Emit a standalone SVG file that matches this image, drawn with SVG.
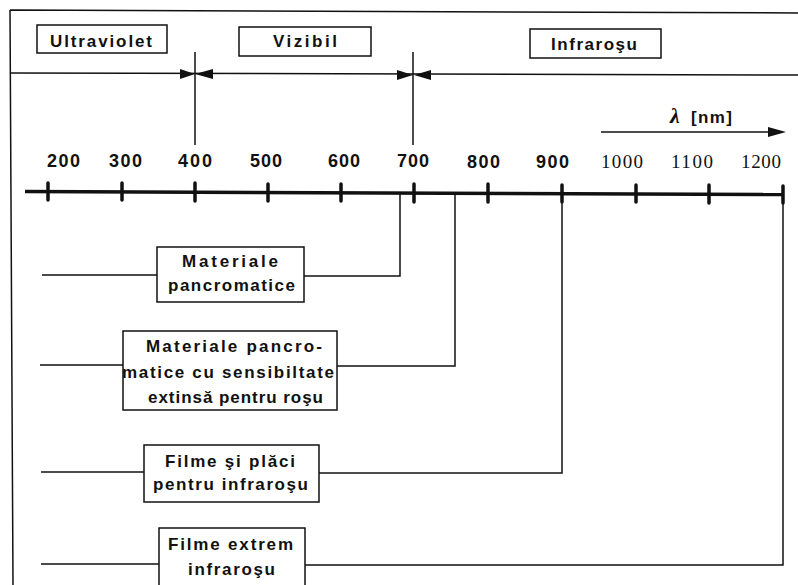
<svg xmlns="http://www.w3.org/2000/svg" width="798" height="585" viewBox="0 0 798 585">
<style>
.box{fill:#fff;stroke:#111;stroke-width:1.5}
.ln{fill:none;stroke:#111;stroke-width:1.5}
.ax{fill:none;stroke:#111;stroke-width:3.5}
.tk{fill:none;stroke:#111;stroke-width:3.5;stroke-linecap:round}
.t{font-family:"Liberation Sans",Arial,sans-serif;font-weight:bold;font-size:17px;fill:#111}
.n{font-family:"Liberation Sans",Arial,sans-serif;font-weight:bold;font-size:18px;fill:#111}
.nl{font-family:"Liberation Serif","Times New Roman",serif;font-weight:normal;font-size:19px;fill:#111}
.ah{fill:#111}
</style>
<rect width="798" height="585" fill="#fff"/>
<g id="frame">
<path class="ln" d="M10,10 L798,13 M10,10 L13,585"/>
</g>
<g id="regions">
<g id="uv"><rect class="box" x="37" y="25" width="130" height="28"/><text class="t" x="50" y="47" textLength="102" lengthAdjust="spacing">Ultraviolet</text></g>
<g id="viz"><rect class="box" x="239" y="27" width="132" height="29"/><text class="t" x="273" y="47" textLength="64" lengthAdjust="spacing">Vizibil</text></g>
<g id="ir"><rect class="box" x="530" y="29" width="131" height="29"/><text class="t" x="551" y="50" textLength="86" lengthAdjust="spacing">Infraroşu</text></g>
<path class="ln" d="M10,73 L798,75"/>
<path class="ln" d="M195,52 V145 M413,52 V145"/>
<path class="ah" d="M180,69 L195,74 L180,79 Z M213,69 L195,74 L213,79 Z M397,70 L413,75 L397,80 Z M431,70 L414,75 L431,80 Z"/>
</g>
<g id="lambda">
<text x="670" y="123" font-family="'Liberation Serif',serif" font-style="italic" font-weight="bold" font-size="22" fill="#111">λ</text>
<text class="t" x="691" y="123" font-size="16" textLength="41" lengthAdjust="spacing">[nm]</text>
<path class="ln" d="M601,132 H770"/>
<path class="ah" d="M786,132 L768,127 L768,137 Z"/>
</g>
<g id="axis">
<path class="ax" d="M25,191.5 L783,194.5"/>
<path class="tk" d="M48,183 V200 M122,183 V200 M195,183 V201 M268,184 V201 M341,184 V201 M414,184 V202 M488,184 V202 M562,185 V202 M636,185 V202 M709,185 V203 M783,186 V203"/>
<text class="n" x="47" y="167" textLength="33" lengthAdjust="spacing">200</text>
<text class="n" x="109" y="167" textLength="33" lengthAdjust="spacing">300</text>
<text class="n" x="178" y="167" textLength="34" lengthAdjust="spacing">400</text>
<text class="n" x="250" y="167" textLength="32" lengthAdjust="spacing">500</text>
<text class="n" x="328" y="167" textLength="32" lengthAdjust="spacing">600</text>
<text class="n" x="397" y="167" textLength="32" lengthAdjust="spacing">700</text>
<text class="n" x="467" y="168" textLength="33" lengthAdjust="spacing">800</text>
<text class="n" x="536" y="168" textLength="33" lengthAdjust="spacing">900</text>
<text class="nl" x="601" y="168" textLength="42" lengthAdjust="spacing">1000</text>
<text class="nl" x="671" y="168" textLength="42" lengthAdjust="spacing">1100</text>
<text class="nl" x="741" y="168" textLength="40" lengthAdjust="spacing">1200</text>
</g>
<g id="connectors">
<path class="ln" d="M400,193 V276 H304 M157,275 H42"/>
<path class="ln" d="M455,193 V366 H337 M123,365 H40"/>
<path class="ln" d="M562,194 V473 H319 M144,472 H41"/>
<path class="ln" d="M783,195 V565 H305 M159,564 H41"/>
</g>
<g id="pancro">
<rect class="box" x="157" y="247" width="147" height="55"/>
<text class="t" x="182" y="267" textLength="96" lengthAdjust="spacing">Materiale</text>
<text class="t" x="168" y="291" textLength="127" lengthAdjust="spacing">pancromatice</text>
</g>
<g id="pancro-rosu">
<rect class="box" x="123" y="331" width="214" height="79"/>
<text class="t" x="146" y="352" textLength="176" lengthAdjust="spacing">Materiale pancro-</text>
<text class="t" x="122" y="378" textLength="212" lengthAdjust="spacing">matice cu sensibiltate</text>
<text class="t" x="148" y="403" textLength="175" lengthAdjust="spacing">extinsă pentru roşu</text>
</g>
<g id="filme-ir">
<rect class="box" x="144" y="445" width="175" height="57"/>
<text class="t" x="165" y="467" textLength="130" lengthAdjust="spacing">Filme şi plăci</text>
<text class="t" x="153" y="490" textLength="155" lengthAdjust="spacing">pentru infraroşu</text>
</g>
<g id="filme-extrem">
<rect class="box" x="159" y="528" width="146" height="70"/>
<text class="t" x="168" y="550" textLength="125" lengthAdjust="spacing">Filme extrem</text>
<text class="t" x="188" y="575" textLength="87" lengthAdjust="spacing">infraroşu</text>
</g>
</svg>
